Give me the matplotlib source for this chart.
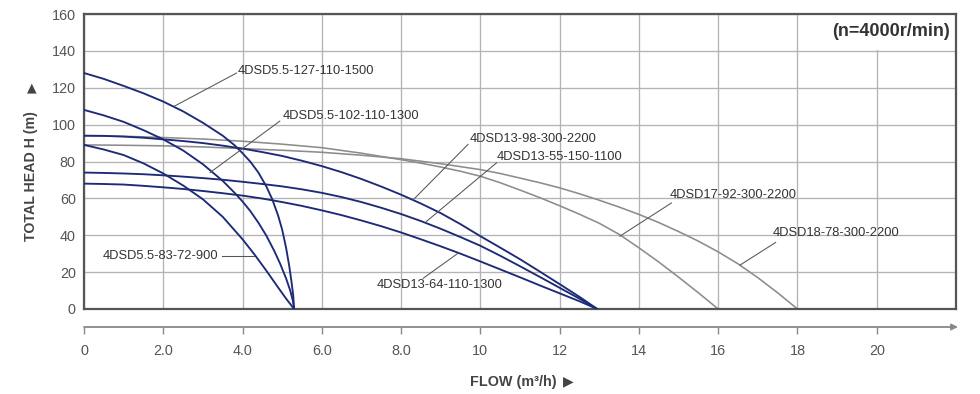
import numpy as np
import matplotlib
matplotlib.use("Agg")
import matplotlib.pyplot as plt
from matplotlib.patches import Rectangle

plt.rcParams['font.family'] = ['Liberation Sans', 'DejaVu Sans']

# ---------------- data ----------------
a127_x = [0, 0.5, 1, 1.5, 2, 2.5, 3, 3.5, 3.8, 4, 4.2, 4.4, 4.6, 4.75, 4.9, 5.0, 5.1, 5.18, 5.24, 5.28, 5.3]
a127_y = [128, 124.8, 121, 117, 112.5, 107.2, 101, 94, 88.8, 84.5, 79.8, 74, 66.5, 59.5, 50.5, 43, 33, 23, 14, 7, 0]

b102_x = [0, 0.5, 1, 1.5, 2, 2.5, 3, 3.5, 3.8, 4, 4.2, 4.4, 4.6, 4.8, 4.95, 5.1, 5.2, 5.27, 5.3]
b102_y = [108, 105, 101.5, 97, 92, 86, 78.5, 69.5, 63, 58.3, 53, 46.8, 39.8, 31.5, 24.5, 16.5, 10.2, 4.5, 0]

c83_x = [0, 0.5, 1, 1.5, 2, 2.5, 3, 3.5, 4, 4.3, 4.6, 4.9, 5.1, 5.3]
c83_y = [89, 86.5, 83.5, 79, 73.5, 67, 59.5, 50, 37.8, 29.6, 20.8, 11.6, 5.6, 0]

n13_x = [0, 0.5, 1, 1.5, 2, 2.5, 3, 3.5, 4, 4.5, 5, 5.5, 6, 6.5, 7, 7.5, 8, 8.5,
         9, 9.5, 10, 10.5, 11, 11.5, 12, 12.5, 12.95]
n98_y = [94, 93.9, 93.5, 92.9, 92, 91.1, 90, 88.6, 87, 85.1, 83, 80.4, 77.5, 74.2,
         70.5, 66.4, 62, 57.2, 52, 46, 39.5, 33.3, 27, 20.3, 13.5, 6.6, 0]
n55_y = [74, 73.8, 73.5, 73.1, 72.5, 71.8, 71, 70.1, 69, 67.8, 66.5, 64.9, 63, 60.7,
         58, 54.9, 51.5, 47.7, 43.5, 39, 34.3, 28.9, 23.2, 17.4, 11.5, 5.6, 0]
n64_y = [68, 67.8, 67.5, 66.8, 66, 65.1, 64, 62.8, 61.5, 59.9, 58, 55.9, 53.5, 50.9,
         48, 44.9, 41.5, 37.8, 34, 30, 25.8, 21.5, 17.2, 12.8, 8.5, 4.2, 0]

g17_x = [0, 1, 2, 3, 4, 5, 6, 7, 8, 8.5, 9, 9.5, 10, 10.5, 11, 11.5, 12, 12.5, 13,
         13.5, 14, 14.5, 15, 15.5, 16]
g17_y = [94, 93.7, 93, 92.2, 91, 89.4, 87.5, 84.5, 81, 79.1, 77, 74.7, 72, 68.5,
         64.5, 60.4, 56, 51.4, 46.5, 40.5, 33.2, 25.5, 17.3, 8.8, 0]

g18_x = [0, 1, 2, 3, 4, 5, 6, 7, 8, 9, 10, 10.5, 11, 11.5, 12, 12.5, 13, 13.5, 14,
         14.5, 15, 15.5, 16, 16.5, 17, 17.5, 18]
g18_y = [89, 88.8, 88.5, 87.9, 87, 86.1, 85, 83.4, 81.5, 78.8, 75.6, 73.5, 71, 68.5,
         65.7, 62.5, 59, 55.3, 51.3, 46.9, 42, 36.8, 31, 24.5, 17, 8.8, 0]

x_ticks = [0, 2, 4, 6, 8, 10, 12, 14, 16, 18, 20]
x_tick_labels = ["0", "2.0", "4.0", "6.0", "8.0", "10", "12", "14", "16", "18", "20"]
y_ticks = [0, 20, 40, 60, 80, 100, 120, 140, 160]

names = ["4DSD5.5-127-110-1500", "4DSD5.5-102-110-1300", "4DSD5.5-83-72-900",
         "4DSD13-98-300-2200", "4DSD13-55-150-1100", "4DSD13-64-110-1300",
         "4DSD17-92-300-2200", "4DSD18-78-300-2200"]

# ---------------- figure ----------------
W, H = 980, 394
fig = plt.figure(figsize=(W / 100, H / 100), dpi=100)
ax = fig.add_axes([84 / W, 1 - 309 / H, (956 - 84) / W, (309 - 14) / H])
ax.set_xlim(0, 22)
ax.set_ylim(0, 160)
ax.set_xticks(np.arange(0, 23, 2))
ax.set_yticks(y_ticks)
ax.tick_params(axis='x', length=0, labelbottom=False)
ax.tick_params(axis='y', length=0, pad=6, labelsize=10.4, labelcolor='#555555')
ax.set_axisbelow(True)
ax.grid(True, color='#b4b4b4', lw=0.95)
for s in ax.spines.values():
    s.set_color('#555555')
    s.set_linewidth(1.6)

# white box hiding grid behind the speed note
ax.add_patch(Rectangle((18.06, 140.5), 3.9, 19.4, facecolor='white',
                       edgecolor='none', zorder=1))

navy = '#1c2a78'
gray = '#8c8c8c'
ax.plot(g17_x, g17_y, color=gray, lw=1.15, zorder=2)
ax.plot(g18_x, g18_y, color=gray, lw=1.15, zorder=2)
ax.plot(a127_x, a127_y, color=navy, lw=1.35, zorder=3)
ax.plot(b102_x, b102_y, color=navy, lw=1.35, zorder=3)
ax.plot(c83_x, c83_y, color=navy, lw=1.35, zorder=3)
ax.plot(n13_x, n98_y, color=navy, lw=1.35, zorder=3)
ax.plot(n13_x, n55_y, color=navy, lw=1.35, zorder=3)
ax.plot(n13_x, n64_y, color=navy, lw=1.35, zorder=3)

# labels with leader lines: (text x, text y, leader start, leader end)
lab_fs = 9.3
lab_col = '#333333'
lead_col = '#555555'
placements = [
    (3.88, 129.0, (3.85, 128.0), (2.28, 110.0)),
    (5.02, 104.8, (4.94, 101.9), (3.18, 74.0)),
    (0.48, 28.8, (3.47, 28.6), (4.30, 28.6)),
    (9.74, 92.2, (9.69, 89.3), (8.31, 59.3)),
    (10.42, 82.4, (10.41, 79.3), (8.64, 47.5)),
    (7.39, 12.8, (8.56, 16.7), (9.44, 30.3)),
    (14.78, 62.0, (14.82, 57.5), (13.52, 39.5)),
    (17.38, 41.4, (17.45, 36.1), (16.55, 23.8)),
]
for name, (tx, ty, p0, p1) in zip(names, placements):
    ax.text(tx, ty, name, fontsize=lab_fs, color=lab_col, ha='left', va='center', zorder=5)
    ax.plot([p0[0], p1[0]], [p0[1], p1[1]], color=lead_col, lw=0.75, zorder=4)

ax.text(21.84, 150.7, "(n=4000r/min)", fontsize=13, fontweight='bold',
        color='#333333', ha='right', va='center', zorder=5)

# separate lower flow axis with arrow
ax2 = fig.add_axes([84 / W, 1 - 327 / H, (956 - 84) / W, 0.0001])
ax2.set_xlim(0, 22)
ax2.set_ylim(0, 1)
for s in ax2.spines.values():
    s.set_visible(False)
ax2.set_yticks([])
ax2.set_xticks(x_ticks)
ax2.set_xticklabels(x_tick_labels)
ax2.tick_params(axis='x', direction='out', length=5, width=1.0, color='#888888',
                labelsize=10.4, labelcolor='#555555', pad=7)
ax2.patch.set_visible(False)
ax2.annotate('', xy=(22.05, 0), xytext=(0, 0), xycoords='data',
             arrowprops=dict(arrowstyle='-|>', color='#888888', lw=1.3,
                             mutation_scale=9, shrinkA=0, shrinkB=0),
             annotation_clip=False)

# axis titles
fig.text(31 / W, 1 - 176 / H, "TOTAL HEAD H (m)", rotation=90, fontsize=10.2,
         fontweight='bold', color='#444444', ha='center', va='center')
fig.text(32 / W, 1 - 88 / H, "▲", fontsize=9, color='#444444',
         ha='center', va='center', family=['DejaVu Sans'])
fig.text(557 / W, 1 - 382 / H, "FLOW (m³/h)", fontsize=10.4, fontweight='bold',
         color='#444444', ha='right', va='center')
fig.text(568 / W, 1 - 381 / H, "▶", fontsize=10, color='#444444',
         ha='center', va='center', family=['DejaVu Sans'])

fig.savefig("out.png", dpi=100, facecolor='white')
